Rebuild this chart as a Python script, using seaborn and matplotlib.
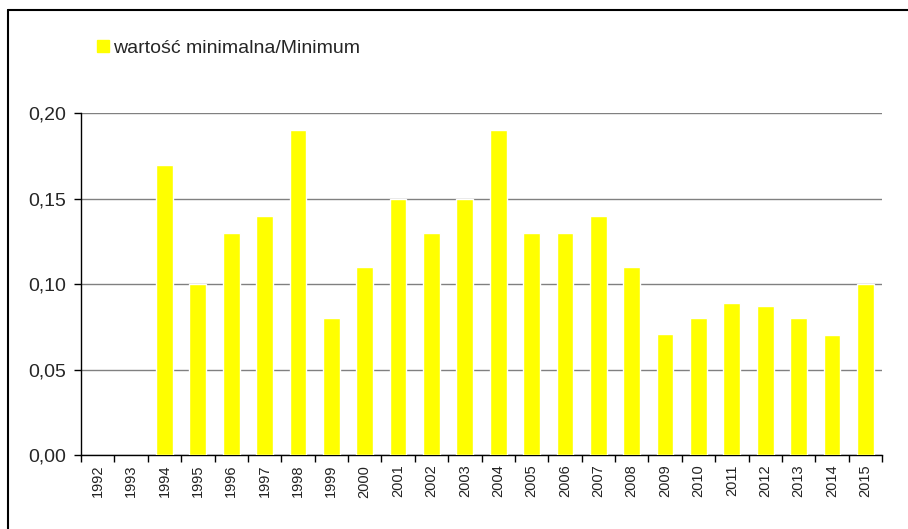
import matplotlib
matplotlib.use('Agg')
import numpy as np
import pandas as pd
import seaborn as sns
import matplotlib.pyplot as plt
from matplotlib.lines import Line2D
from matplotlib.ticker import FuncFormatter

years = [str(y) for y in range(1992, 2016)]
minimum = [np.nan, np.nan, 0.17, 0.10, 0.13, 0.14, 0.19, 0.08, 0.11, 0.15,
           0.13, 0.15, 0.19, 0.13, 0.13, 0.14, 0.11, 0.071, 0.08, 0.089,
           0.087, 0.08, 0.07, 0.10]
series_label = "wartość minimalna/Minimum"

df = pd.DataFrame({"rok": years, "min": minimum})

sns.set_style("white")
plt.rcParams['font.family'] = ['Liberation Sans', 'DejaVu Sans']

fig = plt.figure(figsize=(9.08, 5.29), dpi=100)
ax = fig.add_axes([81 / 908, 1 - 455 / 529, (882 - 81) / 908, (455 - 113.3) / 529])

sns.barplot(data=df, x="rok", y="min", color="#FFFF00", saturation=1,
            width=0.5, ax=ax, zorder=3)

ax.set_ylim(0, 0.2)
ax.set_xlim(-0.5, len(years) - 0.5)
ax.set_yticks([0, 0.05, 0.10, 0.15, 0.20])
ax.yaxis.set_major_formatter(FuncFormatter(lambda v, p: f"{v:.2f}".replace(".", ",")))
ax.yaxis.grid(True, color="#808080", linewidth=1)
ax.set_axisbelow(True)
ax.set_xlabel("")
ax.set_ylabel("")

for s in ["top", "right"]:
    ax.spines[s].set_visible(False)
for s in ["left", "bottom"]:
    ax.spines[s].set_color("black")
    ax.spines[s].set_linewidth(1)

ax.tick_params(axis="y", left=True, direction="out", length=5, width=1,
               color="black", labelsize=14, pad=6)
ax.set_xticks(range(len(years)))
ax.set_xticklabels(years, rotation=90, fontsize=10.5, color="#222222")
ax.tick_params(axis="x", which="major", length=0, pad=7)
ax.set_xticks(np.arange(-0.5, len(years), 1), minor=True)
ax.tick_params(axis="x", which="minor", bottom=True, direction="out", length=5,
               width=1, color="black")

handle = Line2D([], [], marker="s", linestyle="none", markersize=8.5,
                markerfacecolor="#FFFF00", markeredgecolor="#FFFF00")
fig.legend([handle], [series_label], loc="center left",
           bbox_to_anchor=(78 / 908, 1 - 48 / 529), frameon=False,
           fontsize=14, handletextpad=0.1, handlelength=0.8)

# outer frame
fig.add_artist(Line2D([8 / 908, 1], [1 - 10 / 529, 1 - 10 / 529], color="black",
                      linewidth=1.5, transform=fig.transFigure))
fig.add_artist(Line2D([8 / 908, 8 / 908], [0, 1 - 10 / 529], color="black",
                      linewidth=1.5, transform=fig.transFigure))

fig.savefig("out.png", dpi=100)
